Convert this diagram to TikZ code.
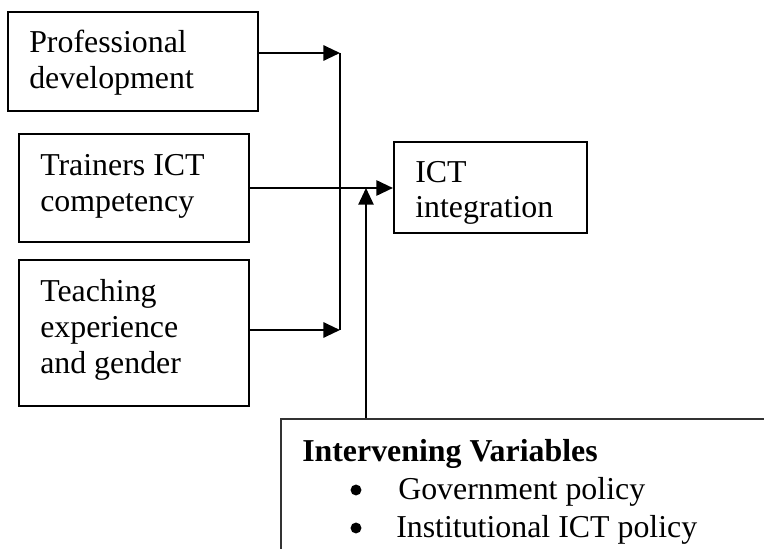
\documentclass[tikz,border=0pt]{standalone}
\usepackage{fontspec}
\setmainfont{Liberation Serif}
\usetikzlibrary{arrows.meta,fit}
\begin{document}
\begin{tikzpicture}[x=0.75pt,y=-0.75pt,
  box/.style={draw, line width=1.6pt, inner sep=0pt, rectangle},
  txt/.style={anchor=base west, inner sep=0pt, font=\fontsize{23.9}{27}\selectfont},
  conn/.style={line width=1.5pt, -{Triangle[length=12.5pt,width=11.5pt]}},
  plainline/.style={line width=1.5pt},
  upconn/.style={line width=1.1pt, -{Triangle[length=12.5pt,width=11.5pt]}}
]
\useasboundingbox (0,0) rectangle (764,549);
\clip (0,0) rectangle (764,549);

% boxes
\node[box, fit={(8,12) (258,111)}] (pd) {};
\node[box, fit={(19,134) (249,242)}] (tc) {};
\node[box, fit={(19,260) (249,406)}] (te) {};
\node[box, fit={(394,142) (587,233)}] (ict) {};
\node[box, draw=black!80, line width=1pt, fit={(281,419) (820,620)}] (iv) {};

% texts
\node[txt] (pd1) at (29,53) {Professional};
\node[txt] (pd2) at (29,89) {development};
\node[txt] (tc1) at (40,176) {Trainers ICT};
\node[txt] (tc2) at (40,212) {competency};
\node[txt] (te1) at (40,301) {Teaching};
\node[txt] (te2) at (40,337) {experience};
\node[txt] (te3) at (40,373) {and gender};
\node[txt] (ict1) at (415,183) {ICT};
\node[txt] (ict2) at (415,218) {integration};
\node[txt, font=\fontsize{23.9}{27}\selectfont\bfseries] (ivh) at (302,461) {Intervening Variables};
\node[txt] (iv1) at (398,499) {Government policy};
\node[txt] (iv2) at (396,537) {Institutional ICT policy};
\fill (356,490) circle[radius=4.1pt];
\fill (356,528) circle[radius=4.1pt];

% junction coordinates
\coordinate (j1) at (340,53);
\coordinate (j3) at (340,330);
\coordinate (jt) at (366,188);

% connectors
\draw[conn] (pd.east |- j1) -- (j1);
\draw[plainline] (j1) -- (j3);
\draw[conn] (te.east |- j3) -- (j3);
\draw[conn] (tc.east) -- (tc.east -| ict.west);
\draw[upconn] (jt |- iv.north) -- (jt);
\end{tikzpicture}
\end{document}
